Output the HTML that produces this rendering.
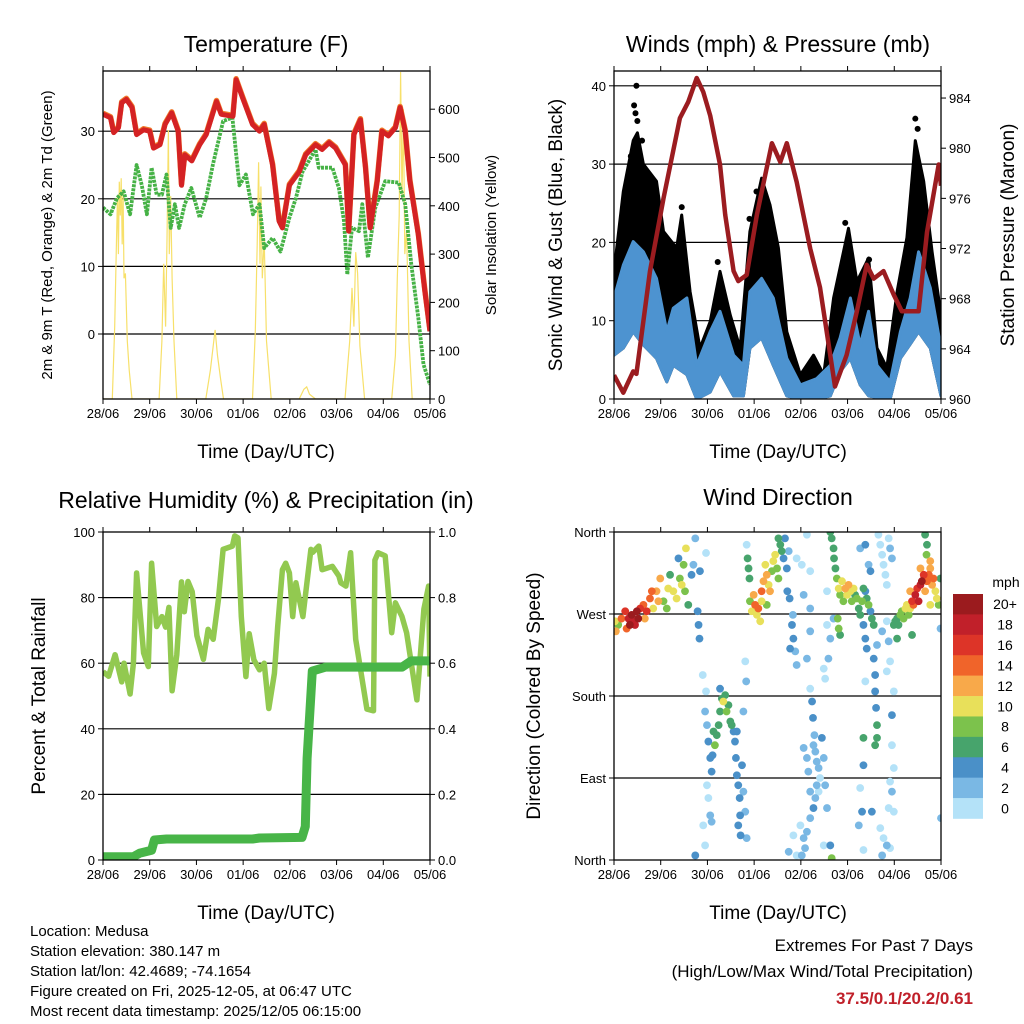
<!DOCTYPE html>
<html><head><meta charset="utf-8"><style>
html,body{margin:0;padding:0;background:#fff;}
svg{display:block;font-family:"Liberation Sans",sans-serif;}
</style></head><body>
<svg id="root" width="1024" height="1024" viewBox="0 0 1024 1024" xmlns="http://www.w3.org/2000/svg">
<text x="266" y="52" font-size="23" text-anchor="middle">Temperature (F)</text>
<text x="778" y="52" font-size="23" text-anchor="middle">Winds (mph) &amp; Pressure (mb)</text>
<text x="266" y="508" font-size="23" text-anchor="middle">Relative Humidity (%) &amp; Precipitation (in)</text>
<text x="778" y="505" font-size="23" text-anchor="middle">Wind Direction</text>
<text transform="translate(52,235) rotate(-90)" font-size="15" text-anchor="middle">2m &amp; 9m T (Red, Orange) &amp; 2m Td (Green)</text>
<text transform="translate(496,235) rotate(-90)" font-size="15" text-anchor="middle">Solar Insolation (Yellow)</text>
<text transform="translate(562,235) rotate(-90)" font-size="19" text-anchor="middle">Sonic Wind &amp; Gust (Blue, Black)</text>
<text transform="translate(1014,235) rotate(-90)" font-size="19" text-anchor="middle">Station Pressure (Maroon)</text>
<text transform="translate(45,696) rotate(-90)" font-size="19" text-anchor="middle">Percent &amp; Total Rainfall</text>
<text transform="translate(540,696) rotate(-90)" font-size="19" text-anchor="middle">Direction (Colored By Speed)</text>
<text x="266" y="458" font-size="19" text-anchor="middle">Time (Day/UTC)</text>
<text x="778" y="458" font-size="19" text-anchor="middle">Time (Day/UTC)</text>
<text x="266" y="919" font-size="19" text-anchor="middle">Time (Day/UTC)</text>
<text x="778" y="919" font-size="19" text-anchor="middle">Time (Day/UTC)</text>
<g font-size="15">
<text x="30" y="936">Location: Medusa</text>
<text x="30" y="956">Station elevation: 380.147 m</text>
<text x="30" y="976">Station lat/lon: 42.4689; -74.1654</text>
<text x="30" y="996">Figure created on Fri, 2025-12-05, at 06:47 UTC</text>
<text x="30" y="1016">Most recent data timestamp: 2025/12/05 06:15:00</text>
</g>
<text x="973" y="951" font-size="17" text-anchor="end">Extremes For Past 7 Days</text>
<text x="973" y="977" font-size="17" text-anchor="end">(High/Low/Max Wind/Total Precipitation)</text>
<text x="973" y="1004" font-size="17" font-weight="bold" fill="#c0202a" text-anchor="end">37.5/0.1/20.2/0.61</text>
</svg>
<script>
// ---------- data ----------
const dayLabels = ["28/06","29/06","30/06","01/06","02/06","03/06","04/06","05/06"];
const tempTicks = [0,10,20,30];
const solarTicks = [0,100,200,300,400,500,600];
const windTicks = [0,10,20,30,40];
const presTicks = [960,964,968,972,976,980,984];
const rhTicks = [0,20,40,60,80,100];
const rainTicks = [0,0.2,0.4,0.6,0.8,1.0];
const dirTicks = [0,90,180,270,360];
const dirLabels = ["North","East","South","West","North"];
const speedLabels = ["0","2","4","6","8","10","12","14","16","18","20+"];
const speedColors = ["#b4e2f8","#7ab8e4","#4a90c8","#47a46c","#7cc24c","#e8e05a","#f8a94a","#f0642a","#dd3428","#c1202a","#9b1b1e"];

const tDay = [0,.16,.23,.33,.4,.5,.62,.72,.87,1.0,1.08,1.22,1.33,1.47,1.61,1.68,1.75,1.9,2.07,2.21,2.43,2.53,2.78,2.85,2.99,3.2,3.35,3.45,3.63,3.77,3.84,3.99,4.2,4.34,4.55,4.69,4.84,4.98,5.19,5.26,5.37,5.51,5.62,5.72,5.87,5.97,6.11,6.26,6.36,6.47,6.57,6.75,6.89,7.0];
const tempT = [32.5,32,29.8,30.5,34.2,34.7,33.5,29.5,30.2,30,27.5,28,31,32.7,30,22,26.5,25.6,28,29.5,34.4,32.5,32.2,37.6,34.9,31,30,31,25,16.7,15.7,22,24,26.5,28,27.3,28.3,27.5,25,15.2,29.5,31.7,24.6,15.7,22.6,30,29.3,30.5,33.5,30,22.6,14.7,6.3,0.4];
const dDay = [0,.16,.3,.44,.58,.72,.83,.94,1.04,1.15,1.26,1.36,1.45,1.54,1.63,1.75,1.89,2.07,2.21,2.35,2.57,2.77,2.92,3.06,3.21,3.35,3.45,3.63,3.8,3.99,4.13,4.27,4.55,4.62,4.91,5.05,5.16,5.23,5.33,5.48,5.55,5.67,5.83,6.04,6.33,6.47,6.6,6.75,6.86,7.0];
const dewT = [18.7,17.7,20.1,21.1,17.7,25,22,17.7,24.6,20.6,20.6,23.6,15.7,19.2,15.7,19.2,21.6,17.2,20.1,25,31.5,32,22,23.6,17.7,19.2,12.7,14.2,12.2,17.2,20.1,24,27.3,24.6,24.6,21.6,16.7,8.8,15.7,15.2,19.2,11.3,18.7,22.6,22.4,19.2,10.3,2.4,-4.5,-7.5];
const solarDay = [0,.2,.25,.29,.31,.33,.35,.37,.39,.41,.43,.45,.48,.52,.56,.62,1.2,1.26,1.3,1.34,1.37,1.4,1.42,1.45,1.48,1.52,1.58,2.2,2.3,2.36,2.4,2.45,2.52,2.58,3.2,3.26,3.3,3.33,3.36,3.38,3.41,3.45,3.5,3.6,4.2,4.3,4.36,4.42,4.55,5.18,5.28,5.33,5.37,5.41,5.45,5.5,5.6,6.18,6.26,6.3,6.34,6.37,6.4,6.43,6.46,6.5,6.55,6.62,7.0];
const solarVal = [0,0,150,330,420,300,450,380,457,320,430,250,260,120,60,0,0,120,280,150,330,557,300,420,250,120,0,0,60,110,143,90,40,0,0,140,320,490,280,440,250,330,120,0,0,20,25,10,0,0,120,230,150,304,260,110,0,0,90,250,380,677,420,600,300,350,120,0,0];

const gustDay = [0,.2,.41,.5,.63,.91,1.06,1.34,1.45,1.63,1.84,2.06,2.27,2.49,2.7,2.91,3.16,3.34,3.52,3.7,3.99,4.27,4.49,4.7,5.02,5.2,5.45,5.63,5.84,6.06,6.27,6.45,6.63,6.81,7.0];
const gustHi = [16.3,26.5,33,34,30,27.8,21.4,19.3,23.5,13.7,6.5,9.9,16.3,10.7,6.5,21.4,28.2,24.8,19.3,8.6,3.1,5.6,3.1,12.9,21.8,15,18,6.5,4,13.7,20.6,33,27.8,18.8,10.7];
const gustDotDay = [.48,.43,.46,.5,1.45,2.22,2.9,3.05,6.45,6.5,4.95,5.46,.36,.6];
const gustDotVal = [40,37.5,36.5,35.5,24.5,17.5,23,26.5,35.8,34.5,22.5,17.8,31,33];
const blueDay = [0,.2,.41,.63,.91,1.13,1.27,1.56,1.77,2.06,2.27,2.56,2.77,2.91,3.16,3.41,3.7,3.99,4.34,4.63,4.84,5.06,5.27,5.45,5.63,5.91,6.13,6.34,6.52,6.77,7.0];
const blueHi = [12.9,17.1,20.1,18.8,15.4,8.6,11.6,12.9,4.3,8.6,11.2,5.6,4.3,13.7,15.4,12.9,5.2,1.8,2.6,4.3,7.8,12.9,6.9,11.2,4.3,2.2,8.6,12.9,18.8,14.2,6.5];
const blueLo = [5.6,6.5,8.6,6.9,5.2,2.2,4.3,3.1,0,0.9,3.5,0.4,0.4,6.5,7.8,4.3,0.4,0,0,0.4,3.5,5.2,1.8,0.4,0.2,0,5.2,7,8.6,6.5,0.4];
const presDay = [0,.2,.41,.48,.77,1.06,1.41,1.59,1.77,1.91,2.06,2.27,2.38,2.56,2.66,2.84,3.06,3.38,3.56,3.7,3.91,4.2,4.41,4.73,4.98,5.2,5.41,5.56,5.77,5.99,6.16,6.38,6.52,6.7,6.95,7.0];
const presMb = [961.9,960.5,962.2,962,970.2,976,982.4,983.7,985.6,984.5,982.6,978.7,974.7,970.2,969.4,969.9,974.7,980.4,978.9,980.4,977.3,972,968.9,961,963.5,967,970.7,969.6,970.2,968.3,967,967,967,973.3,978.7,977];

const rhDay = [0,.12,.26,.4,.45,.58,.65,.72,.87,.97,1.04,1.15,1.26,1.34,1.41,1.48,1.58,1.68,1.74,1.82,1.91,2.01,2.15,2.25,2.36,2.47,2.57,2.77,2.82,2.89,2.96,3.06,3.13,3.23,3.35,3.45,3.55,3.67,3.74,3.84,3.91,3.99,4.06,4.13,4.28,4.45,4.49,4.62,4.69,4.91,5.05,5.09,5.2,5.3,5.41,5.65,5.79,5.82,5.89,6.04,6.18,6.26,6.4,6.5,6.72,6.87,6.97,7.0];
const rhVal = [57.4,56,62.6,54.3,60,50.6,60,87.5,63.1,59,90.5,71.2,74.2,71,77,51.6,62.6,84.8,75.7,84.9,81.8,68.4,61.2,70.3,67.3,79.4,94.7,95.7,98.8,98.2,74.2,55.9,69,61,58,60,46.2,56.9,71.2,88.5,90.5,87.5,74.2,84.5,74.2,94.7,93.8,95.7,88.5,89.5,86.6,84.5,83.5,93.7,67.3,46,45.5,91.4,93.7,92.7,69.3,78.4,74.2,69.3,48.8,76.5,83.5,55.9,48.8,70.3,61.2];
const rainDay = [0,.65,.79,1.04,1.1,1.36,3.2,3.35,4.26,4.33,4.37,4.48,4.77,6.4,6.6,7.0];
const rainIn = [0.01,0.01,0.021,0.03,0.061,0.064,0.064,0.067,0.069,0.102,0.31,0.576,0.588,0.588,0.607,0.607];

// wind direction scatter: day, direction (deg), speed (mph)
const wdDay = [
.02,.04,.09,.16,.24,.27,.31,.34,.38,.41,.45,.49,.52,.56,.63,.66,.70,.77,.81,.84,.91,.95,.99,1.06,1.13,1.16,1.20,1.27,1.34,1.41,
1.38,1.45,1.49,1.52,1.54,1.59,1.66,1.70,1.74,1.79,1.81,1.83,1.84,1.97,
1.9,1.97,1.95,1.99,2.02,2.06,2.09,2.11,2.13,2.16,2.2,2.24,2.27,2.31,2.34,2.38,2.41,2.45,2.49,2.52,2.56,2.59,2.61,2.63,2.66,2.69,2.7,2.71,2.74,2.77,2.81,2.84,2.77,1.99,2.02,2.06,1.91,1.95,2.09,1.74,2.81,2.83,2.27,2.63,2.66,
2.84,2.86,2.88,2.9,2.91,2.95,2.99,3.02,3.06,3.09,3.13,3.16,3.2,3.24,3.27,3.31,3.34,3.38,3.41,3.45,3.49,3.52,3.56,3.59,3.63,3.66,3.7,3.74,3.71,3.76,3.81,3.84,3.88,3.77,3.83,3.91,3.27,3.16,3.52,
3.91,4.02,4.06,4.13,4.2,4.2,4.2,4.13,4.2,4.24,4.26,4.29,4.31,4.34,4.38,4.41,4.34,4.38,4.31,4.27,4.2,4.13,4.06,4.09,4.02,3.91,3.84,3.99,4.13,4.16,4.2,4.49,4.45,4.52,4.56,4.63,4.49,3.74,4.59,4.49,4.52,4.56,4.56,4.63,4.7,4.06,4.27,
4.63,4.66,4.7,4.71,4.74,4.77,4.81,4.84,4.88,4.91,4.95,4.99,5.02,5.06,5.09,5.13,5.16,5.2,5.24,5.27,5.31,5.34,5.38,5.41,5.45,5.49,5.52,5.56,4.79,4.81,4.84,5.34,5.38,5.41,5.56,5.59,5.59,5.61,5.63,5.63,5.59,5.38,5.34,5.27,5.38,5.45,5.49,5.27,5.31,5.34,5.52,5.24,5.34,4.66,
5.66,5.7,5.74,5.77,5.81,5.84,5.88,5.91,5.95,5.84,5.88,5.91,5.84,5.99,5.95,5.95,5.99,5.91,5.95,5.88,5.99,5.7,5.77,5.84,5.91,5.74,5.63,5.74,
5.99,6.02,6.06,6.09,6.13,6.16,6.2,6.24,6.27,6.31,6.34,6.38,6.41,6.45,6.49,6.52,6.56,6.59,6.63,6.66,6.7,6.74,6.77,6.81,6.84,6.88,6.91,6.95,6.99,6.69,6.7,6.66,6.77,6.06,6.38,6.99,7.0,6.34,6.56,6.77];
const wdDir = [
262,251,258,265,273,254,265,258,269,262,258,273,265,276,280,265,273,287,295,276,295,284,309,284,276,298,313,295,287,309,
331,302,324,295,342,280,313,324,353,273,258,243,317,337,
203,185,163,148,130,112,97,115,141,126,137,148,163,177,174,181,163,170,152,148,141,130,112,93,82,68,49,27,104,75,53,24,163,82,68,49,38,16,42,5,218,196,188,141,38,
346,331,320,309,284,273,291,280,269,276,262,295,306,324,313,302,295,317,328,335,320,309,346,339,331,353,320,339,295,287,258,243,229,232,269,214,280,284,353,
331,324,291,357,317,276,251,221,188,174,156,137,119,108,101,90,82,75,68,57,46,31,24,13,5,5,27,38,112,97,75,112,134,82,57,16,16,9,221,210,199,258,295,243,265,123,126,
360,353,342,331,320,309,298,291,306,284,298,291,302,295,284,298,291,287,276,269,284,298,295,287,280,273,265,258,265,254,247,258,243,232,221,203,185,167,148,134,126,196,134,342,346,324,317,79,53,104,53,38,11,2,
357,346,335,324,313,302,353,342,331,262,240,218,207,185,159,126,101,86,75,57,53,35,24,16,13,5,236,251,
258,262,265,258,269,273,265,276,280,269,276,284,280,291,298,284,302,306,313,295,306,313,320,302,309,295,287,280,309,335,346,357,280,243,247,254,46,295,320,328];
const wdSpd = [
10,12,8,14,16,14,18,20,20,18,18,20,20,16,14,12,16,14,14,10,12,12,12,8,8,10,6,10,10,8,
4,10,8,8,10,6,4,2,2,4,4,4,4,0,
0,0,2,2,4,4,4,4,6,8,6,6,6,6,10,6,8,6,6,6,4,4,4,4,4,4,4,4,4,2,2,2,2,0,0,2,0,0,2,4,0,2,4,4,4,
0,6,6,6,8,10,12,14,10,14,10,14,12,10,12,10,12,8,10,10,8,8,6,6,4,4,4,2,4,4,4,4,2,4,2,2,8,10,6,
0,0,2,0,0,2,2,2,0,4,4,2,2,2,2,0,2,0,2,4,2,2,2,2,2,0,0,0,2,2,2,2,4,2,2,4,0,2,2,0,0,0,0,2,2,2,2,
6,6,6,6,6,8,10,8,10,8,12,10,12,10,8,10,6,8,6,6,8,6,4,6,8,4,6,6,8,8,6,4,4,4,4,4,4,4,6,6,6,0,6,2,4,2,4,0,4,4,4,2,0,8,
0,0,0,0,0,0,0,2,2,0,2,0,0,0,4,0,0,0,2,0,0,0,0,2,0,2,2,2,
6,6,6,6,8,8,8,10,10,8,10,16,14,18,16,18,18,20,16,12,14,14,12,12,14,10,10,8,6,8,6,6,10,6,6,2,2,12,12,12];

// ---------- drawing ----------
const NS = "http://www.w3.org/2000/svg";
const root = document.getElementById("root");
function mk(tag, attrs, parent) {
  const el = document.createElementNS(NS, tag);
  for (const k in attrs) el.setAttribute(k, attrs[k]);
  (parent || root).appendChild(el);
  return el;
}
const DAYW = 327 / 7;
const P = {
  tl: {x0: 103, y0: 71, x1: 430, y1: 399},
  tr: {x0: 614, y0: 71, x1: 941, y1: 399},
  bl: {x0: 103, y0: 532, x1: 430, y1: 860},
  br: {x0: 614, y0: 532, x1: 941, y1: 860}
};
const xTL = d => P.tl.x0 + d * DAYW;
const xTR = d => P.tr.x0 + d * DAYW;
const yTemp = v => 334 - v * 6.76;
const ySol = v => 399 - v * 0.483;
const yWind = v => 399 - v * 7.83;
const yPres = p => 399 - (p - 960) * 12.54;
const yRH = v => 860 - v * 3.28;
const yRain = v => 860 - v * 328;
const yDir = d => 860 - d * 328 / 360;

function pathFrom(xs, ys, fx, fy) {
  let s = "";
  for (let i = 0; i < xs.length && i < ys.length; i++) s += (i ? "L" : "M") + fx(xs[i]).toFixed(1) + "," + fy(ys[i]).toFixed(1);
  return s;
}
function clip(id, p) {
  const cp = mk("clipPath", {id: id});
  mk("rect", {x: p.x0, y: p.y0, width: p.x1 - p.x0, height: p.y1 - p.y0}, cp);
}
clip("c-tl", P.tl); clip("c-tr", P.tr); clip("c-bl", P.bl); clip("c-br", P.br);

function gridLines(p, vals, fy, name) {
  vals.forEach(v => {
    const y = fy(v);
    if (y <= p.y0 + 1 || y >= p.y1 - 1) return;
    const l = mk("line", {x1: p.x0, x2: p.x1, y1: y, y2: y, stroke: "#000", "stroke-width": 1.2});
    
    
  });
}
function xAxis(p, fx) {
  dayLabels.forEach((lab, i) => {
    const x = fx(i);
    const t1 = mk("line", {x1: x, x2: x, y1: p.y1, y2: p.y1 + 5, stroke: "#000", "stroke-width": 1});
    
    
    const t2 = mk("line", {x1: x, x2: x, y1: p.y0, y2: p.y0 - 5, stroke: "#000", "stroke-width": 1});
    
    
    const tx = mk("text", {x: x, y: p.y1 + 19, "font-size": 13, "text-anchor": "middle"});
    tx.textContent = lab;
    
    
  });
}
function yAxis(p, vals, labels, fy, side, name) {
  vals.forEach((v, i) => {
    const y = fy(v);
    const x = side === "left" ? p.x0 : p.x1;
    const d = side === "left" ? -5 : 5;
    const t = mk("line", {x1: x, x2: x + d, y1: y, y2: y, stroke: "#000", "stroke-width": 1});
    
    
    const tx = mk("text", {x: x + (side === "left" ? -8 : 8), y: y + 5, "font-size": 13, "text-anchor": side === "left" ? "end" : "start"});
    tx.textContent = labels[i];
    
    
  });
}
function frame(p, name) {
  const r = mk("rect", {x: p.x0, y: p.y0, width: p.x1 - p.x0, height: p.y1 - p.y0, fill: "none", stroke: "#000", "stroke-width": 1.3});
  
  
}

// ---- Panel 1: temperature ----
gridLines(P.tl, tempTicks, yTemp, 'temp-gridline');
const g1 = mk("g", {"clip-path": "url(#c-tl)"});


const sol = mk("path", {d: pathFrom(solarDay, solarVal, xTL, ySol), fill: "none", stroke: "#f7e06a", "stroke-width": 1.2}, g1);


const dew = mk("path", {d: pathFrom(dDay, dewT, xTL, yTemp), fill: "none", stroke: "#46b246", "stroke-width": 3.8, "stroke-dasharray": "3 1", "stroke-linejoin": "round"}, g1);


const t9 = mk("path", {d: pathFrom(tDay, tempT, xTL, yTemp), fill: "none", stroke: "#f07a2a", "stroke-width": 5.5, "stroke-linejoin": "round", transform: "translate(0,-1)"}, g1);


const t2 = mk("path", {d: pathFrom(tDay, tempT, xTL, yTemp), fill: "none", stroke: "#d42224", "stroke-width": 5, "stroke-linejoin": "round"}, g1);


frame(P.tl, 'temperature-frame');
xAxis(P.tl, xTL);
yAxis(P.tl, tempTicks, tempTicks.map(String), yTemp, "left", 'temp-y');
yAxis(P.tl, solarTicks, solarTicks.map(String), ySol, "right", 'solar-y');

// ---- Panel 2: wind & pressure ----
gridLines(P.tr, windTicks, yWind, 'wind-gridline');
const g2 = mk("g", {"clip-path": "url(#c-tr)"});


(function () {
  let d = pathFrom(gustDay, gustHi, xTR, yWind);
  for (let i = blueDay.length - 1; i >= 0; i--) d += "L" + xTR(blueDay[i]).toFixed(1) + "," + yWind(blueLo[i]).toFixed(1);
  const gp = mk("path", {d: d + "Z", fill: "#000", stroke: "#000", "stroke-width": 3, "stroke-linejoin": "round"}, g2);
  
  
  gustDotDay.forEach((dd, i) => {
    const c = mk("circle", {cx: xTR(dd), cy: yWind(gustDotVal[i]), r: 3, fill: "#000"}, g2);
    
    
  });
  let b = pathFrom(blueDay, blueHi, xTR, yWind);
  for (let i = blueDay.length - 1; i >= 0; i--) b += "L" + xTR(blueDay[i]).toFixed(1) + "," + yWind(blueLo[i]).toFixed(1);
  const bp = mk("path", {d: b + "Z", fill: "#4d93d0", stroke: "#4d93d0", "stroke-width": 3, "stroke-linejoin": "round"}, g2);
  
  
  const pp = mk("path", {d: pathFrom(presDay, presMb, xTR, yPres), fill: "none", stroke: "#9b1c20", "stroke-width": 4.5, "stroke-linejoin": "round"}, g2);
  
  
})();
frame(P.tr, 'wind-frame');
xAxis(P.tr, xTR);
yAxis(P.tr, windTicks, windTicks.map(String), yWind, "left", 'wind-y');
yAxis(P.tr, presTicks, presTicks.map(String), yPres, "right", 'pressure-y');

// ---- Panel 3: RH & rain ----
gridLines(P.bl, rhTicks, yRH, 'rh-gridline');
const g3 = mk("g", {"clip-path": "url(#c-bl)"});


const rh = mk("path", {d: pathFrom(rhDay, rhVal, xTL, yRH), fill: "none", stroke: "#92c950", "stroke-width": 5.5, "stroke-linejoin": "round"}, g3);


const rn = mk("path", {d: pathFrom(rainDay, rainIn, xTL, yRain), fill: "none", stroke: "#48b548", "stroke-width": 9, "stroke-linejoin": "round"}, g3);


frame(P.bl, 'humidity-frame');
xAxis(P.bl, xTL);
yAxis(P.bl, rhTicks, rhTicks.map(String), yRH, "left", 'rh-y');
yAxis(P.bl, rainTicks, rainTicks.map(v => v.toFixed(1)), yRain, "right", 'rain-y');

// ---- Panel 4: wind direction ----
gridLines(P.br, dirTicks, yDir, 'direction-gridline');
const g4 = mk("g", {"clip-path": "url(#c-br)"});


const order = wdDay.map((_, i) => i).sort((a, b) => wdSpd[a] - wdSpd[b]);
order.forEach(i => {
  const ci = Math.min(10, Math.floor(wdSpd[i] / 2));
  const c = mk("circle", {cx: xTR(wdDay[i]), cy: yDir(wdDir[i]), r: 3.9, fill: speedColors[ci]}, g4);
  
  
});
frame(P.br, 'direction-frame');
xAxis(P.br, xTR);
yAxis(P.br, dirTicks, dirLabels, yDir, "left", 'direction-y');

// colorbar
const cbTop = 594, cbH = 224.5 / 11;
speedLabels.forEach((lab, i) => {
  const k = 10 - i;
  const y = cbTop + i * cbH;
  const r = mk("rect", {x: 953, y: y, width: 30, height: cbH + 0.3, fill: speedColors[k]});
  
  
  const t = mk("text", {x: 1005, y: y + cbH / 2 + 5, "font-size": 14, "text-anchor": "middle"});
  t.textContent = speedLabels[k];
  
  
});
const mph = mk("text", {x: 1006, y: 587, "font-size": 14, "text-anchor": "middle"});
mph.textContent = "mph";


</script>
</body></html>
